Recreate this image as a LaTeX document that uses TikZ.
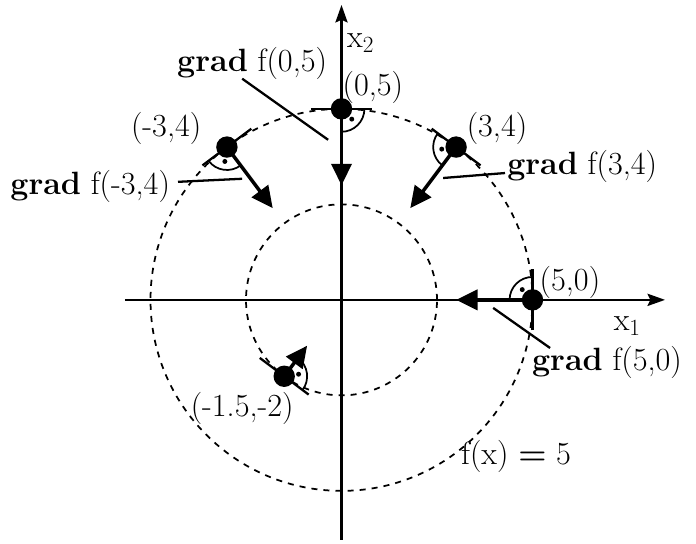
\documentclass[tikz,border=0pt]{standalone}
\usepackage{fontspec}
\usetikzlibrary{arrows.meta}
\begin{document}
\begin{tikzpicture}[x=1cm,y=1cm,
  lbl/.style={font=\fontsize{24}{28}\selectfont, inner sep=0pt},
  axis/.style={line width=1.9pt, -{Stealth[length=13pt,width=9pt,inset=2pt]}},
  level/.style={line width=1.3pt, dash pattern=on 4.5pt off 4.5pt},
  gradarrow/.style={line width=2.6pt, -{Triangle[length=16pt,width=15pt]}},
  tang/.style={line width=1.7pt},
  rarc/.style={line width=1.3pt},
  leader/.style={line width=1.7pt},
  pt/.style={circle, fill=black, inner sep=0pt, minimum size=0.56cm}]
\useasboundingbox (-8.94,-6.39) rectangle (9.28,7.85);
% level curves
\draw[level] (0,0) circle (5);
\draw[level] (0,0) circle (2.5);
% axes
\coordinate (xs) at (-5.67,0); \coordinate (xe) at (8.47,0);
\coordinate (ys) at (0,-6.28); \coordinate (ye) at (0,7.72);
\draw[axis] (xs) -- (xe);
\draw[axis] (ys) -- (ye);
\node[lbl] (lx1) at (7.48,-0.68) {$\mathrm{x}_{1}$};
\node[lbl] (lx2) at (0.5,6.72) {$\mathrm{x}_{2}$};
% points
\coordinate (P1) at (0,5);
\coordinate (P2) at (3,4);
\coordinate (P3) at (-3,4);
\coordinate (P4) at (5,0);
\coordinate (P5) at (-1.5,-2);
% tangents
\coordinate (T1a) at (-0.8,5); \coordinate (T1b) at (0.8,5);
\coordinate (T2a) at (2.36,4.48); \coordinate (T2b) at (3.64,3.52);
\coordinate (T3a) at (-3.64,3.52); \coordinate (T3b) at (-2.36,4.48);
\coordinate (T4a) at (5,-0.8); \coordinate (T4b) at (5,0.8);
\coordinate (T5a) at (-2.14,-1.52); \coordinate (T5b) at (-0.86,-2.48);
\foreach \i in {1,...,5} \draw[tang] (T\i a) -- (T\i b);
% right-angle arcs and dots
\foreach \P/\a/\b in {P1/270/360, P2/143.13/233.13, P3/216.87/306.87, P4/90/180, P5/-36.87/53.13}{
  \draw[rarc] ([shift={(\a:0.6)}]\P) arc[start angle=\a, end angle=\b, radius=0.6];
  \fill ([shift={({(\a+\b)/2}:0.38)}]\P) circle (0.065);
}
% gradient arrows
\coordinate (A1) at (0,3);
\coordinate (A2) at (1.8,2.4);
\coordinate (A3) at (-1.8,2.4);
\coordinate (A4) at (3,0);
\coordinate (A5) at (-0.9,-1.2);
\foreach \i in {1,...,5} \draw[gradarrow] (P\i) -- (A\i);
% dots
\node[pt] (p1) at (P1) {};
\node[pt] (p2) at (P2) {};
\node[pt] (p3) at (P3) {};
\node[pt] (p4) at (P4) {};
\node[pt] (p5) at (P5) {};
% point labels
\node[lbl] (l1) at (0.82,5.55) {(0,5)};
\node[lbl] (l2) at (4.07,4.5) {(3,4)};
\node[lbl] (l3) at (-4.59,4.5) {(-3,4)};
\node[lbl] (l4) at (5.98,0.45) {(5,0)};
\node[lbl] (l5) at (-2.6,-2.83) {(-1.5,-2)};
% gradient labels
\node[lbl] (g1) at (-2.34,6.2) {\textbf{grad} f(0,5)};
\node[lbl] (g2) at (6.3,3.48) {\textbf{grad} f(3,4)};
\node[lbl] (g3) at (-6.58,2.98) {\textbf{grad} f(-3,4)};
\node[lbl] (g4) at (6.95,-1.65) {\textbf{grad} f(5,0)};
% leader lines
\coordinate (L1a) at (-2.6,5.79); \coordinate (L1b) at (-0.35,4.19);
\coordinate (L2a) at (2.66,3.19); \coordinate (L2b) at (4.28,3.32);
\coordinate (L3a) at (-4.28,3.09); \coordinate (L3b) at (-2.6,3.17);
\coordinate (L4a) at (3.97,-0.21); \coordinate (L4b) at (5.46,-1.26);
\foreach \i in {1,...,4} \draw[leader] (L\i a) -- (L\i b);
% level label
\node[lbl] (fx) at (4.57,-4.11) {f(x) \textbf{=} 5};
\end{tikzpicture}
\end{document}
